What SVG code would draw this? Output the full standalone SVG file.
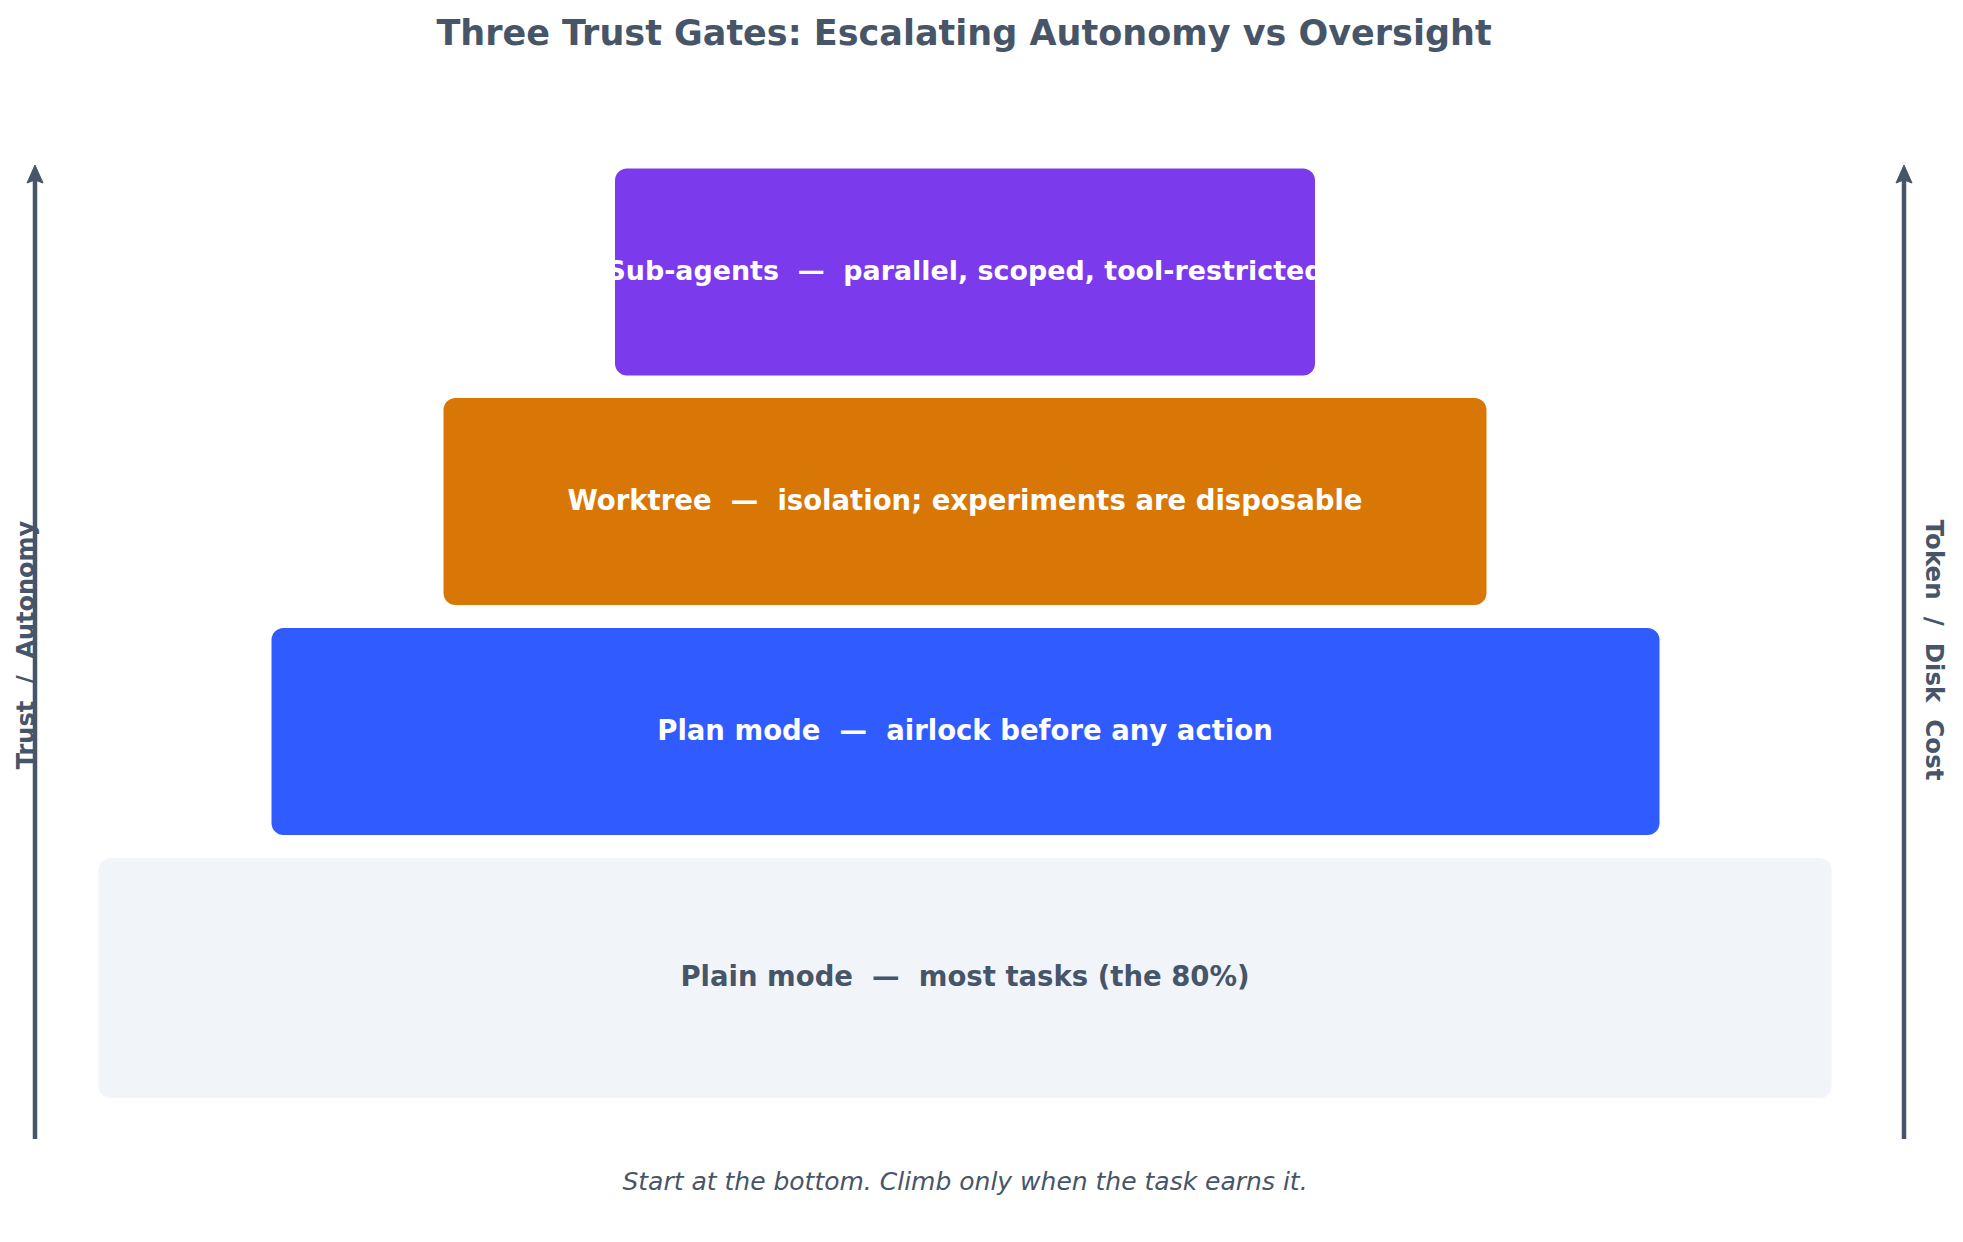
<svg xmlns="http://www.w3.org/2000/svg" width="1963" height="1242" viewBox="0 0 1963 1242" xml:space="preserve">
  <style>
    text { white-space: pre; }
    .title { font-family: "DejaVu Sans", "Liberation Sans", sans-serif; font-weight: bold; font-size: 35px; fill: #475569; }
    .lbl { font-family: "DejaVu Sans", "Liberation Sans", sans-serif; font-weight: bold; font-size: 27.5px; text-anchor: middle; }
    .light { fill: #ffffff; }
    .dark { fill: #475569; }
    .axis-lbl { font-family: "DejaVu Sans", "Liberation Sans", sans-serif; font-weight: bold; font-size: 24px; fill: #475569; text-anchor: middle; }
    .foot { font-family: "DejaVu Sans", "Liberation Sans", sans-serif; font-style: italic; font-size: 25px; fill: #475569; text-anchor: middle; }
    .axis { stroke: #475569; stroke-width: 4.5; fill: none; }
  </style>
  <defs>
    <marker id="head" markerUnits="userSpaceOnUse" markerWidth="20" markerHeight="18" viewBox="-1 -1 20 18" refX="10" refY="8" orient="auto">
      <path d="M0,0 L18,8 L0,16 L3,8 Z" fill="#475569" stroke="#475569" stroke-width="1" stroke-linejoin="round"/>
    </marker>
  </defs>
  <rect width="1963" height="1242" fill="#ffffff"/>

  <text class="title" x="964" y="45" text-anchor="middle">Three Trust Gates: Escalating Autonomy vs Oversight</text>

  <g id="plain">
    <rect x="98.5" y="858" width="1733" height="240" rx="12" fill="#f1f4f9"/>
    <text class="lbl dark" x="965" y="986">Plain mode  —  most tasks (the 80%)</text>
  </g>
  <g id="plan">
    <rect x="271.5" y="628" width="1388" height="207" rx="12" fill="#305cff"/>
    <text class="lbl light" x="965" y="740">Plan mode  —  airlock before any action</text>
  </g>
  <g id="worktree">
    <rect x="443.5" y="398" width="1043" height="207" rx="12" fill="#d97706"/>
    <text class="lbl light" x="965" y="509.5">Worktree  —  isolation; experiments are disposable</text>
  </g>
  <g id="subagents">
    <rect x="615" y="168.5" width="700" height="207" rx="12" fill="#7c3aed"/>
    <text class="lbl light" x="965" y="280" style="font-size:26.9px">Sub-agents  —  parallel, scoped, tool-restricted</text>
  </g>

  <g id="connectors">
    <line class="axis" x1="35" y1="1139" x2="35" y2="173" marker-end="url(#head)"/>
    <line class="axis" x1="1904" y1="1139" x2="1904" y2="173" marker-end="url(#head)"/>
  </g>

  <g id="axis-labels">
    <text class="axis-lbl" transform="translate(33.5,645) rotate(-90)">Trust  /  Autonomy</text>
    <text class="axis-lbl" transform="translate(1926,650) rotate(90)" style="font-size:24.5px">Token  /  Disk  Cost</text>
  </g>

  <text class="foot" x="965" y="1190">Start at the bottom. Climb only when the task earns it.</text>
</svg>
